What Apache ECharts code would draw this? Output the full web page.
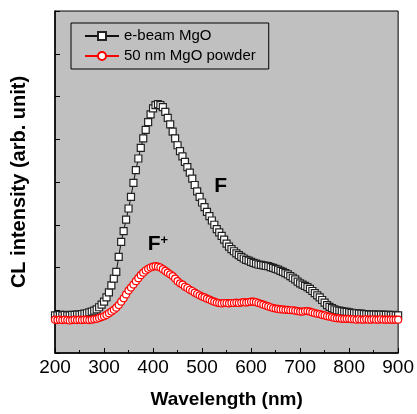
<!DOCTYPE html>
<html>
<head>
<meta charset="utf-8">
<script src="https://cdn.jsdelivr.net/npm/echarts@6.0.0/dist/echarts.min.js"></script>
<style>
  html, body { margin: 0; padding: 0; background: #fff; }
  #chart { width: 417px; height: 414px; }
</style>
</head>
<body>
<div id="chart"></div>
<script>
// wavelength grid, 5 nm step, 200..900 nm
const wavelengths = [];
for (let w = 200; w <= 900; w += 5) wavelengths.push(w);

// e-beam MgO (arb. units)
const ebeamValues = [
  0.88, 0.88, 0.89, 0.88, 0.89, 0.88, 0.88, 0.89, 0.89, 0.9, 0.9, 0.91, 0.92, 0.93, 0.95, 0.97, 0.99, 1.02, 1.07, 1.13,
  1.2, 1.3, 1.42, 1.58, 1.74, 1.9, 2.25, 2.6, 2.85, 3.12, 3.38, 3.65, 3.98, 4.28, 4.55, 4.8, 5.02, 5.22, 5.4, 5.58,
  5.72, 5.8, 5.82, 5.8, 5.75, 5.64, 5.5, 5.35, 5.18, 5.02, 4.86, 4.72, 4.6, 4.47, 4.35, 4.22, 4.08, 3.93, 3.78, 3.65,
  3.52, 3.41, 3.3, 3.2, 3.1, 3.0, 2.9, 2.82, 2.74, 2.65, 2.56, 2.49, 2.43, 2.38, 2.33, 2.29, 2.25, 2.21, 2.18, 2.16,
  2.13, 2.11, 2.09, 2.07, 2.06, 2.05, 2.04, 2.03, 2.01, 1.99, 1.97, 1.95, 1.92, 1.9, 1.87, 1.84, 1.8, 1.76, 1.72, 1.67,
  1.63, 1.6, 1.57, 1.54, 1.5, 1.45, 1.4, 1.35, 1.3, 1.24, 1.18, 1.12, 1.08, 1.05, 1.02, 1.0, 0.99, 0.98, 0.97, 0.96,
  0.95, 0.94, 0.93, 0.93, 0.92, 0.92, 0.91, 0.91, 0.9, 0.9, 0.9, 0.9, 0.89, 0.9, 0.89, 0.89, 0.89, 0.88, 0.89, 0.88,
  0.88
];

// 50 nm MgO powder
const powderValues = [
  0.78, 0.77, 0.78, 0.77, 0.78, 0.77, 0.76, 0.77, 0.78, 0.77, 0.78, 0.77, 0.78, 0.78, 0.77, 0.78, 0.79, 0.8, 0.82, 0.84,
  0.86, 0.89, 0.93, 0.97, 1.01, 1.06, 1.12, 1.2, 1.28, 1.37, 1.46, 1.53, 1.6, 1.68, 1.75, 1.82, 1.88, 1.93, 1.97, 2.0,
  2.02, 2.03, 2.02, 2.0, 1.96, 1.92, 1.88, 1.84, 1.8, 1.74, 1.68, 1.63, 1.6, 1.55, 1.52, 1.48, 1.45, 1.41, 1.38, 1.35,
  1.32, 1.3, 1.27, 1.25, 1.22, 1.2, 1.18, 1.17, 1.16, 1.17, 1.17, 1.16, 1.17, 1.17, 1.18, 1.17, 1.18, 1.19, 1.18, 1.19,
  1.2, 1.2, 1.19, 1.17, 1.15, 1.13, 1.11, 1.09, 1.07, 1.05, 1.04, 1.03, 1.02, 1.02, 1.01, 1.01, 1.0, 1.0, 0.99, 0.98,
  0.97, 0.97, 0.98, 0.98, 0.97, 0.95, 0.93, 0.92, 0.91, 0.89, 0.88, 0.86, 0.85, 0.84, 0.82, 0.81, 0.81, 0.8, 0.8, 0.8,
  0.8, 0.79, 0.79, 0.78, 0.79, 0.78, 0.78, 0.79, 0.78, 0.78, 0.79, 0.78, 0.78, 0.79, 0.78, 0.78, 0.78, 0.78, 0.78, 0.78,
  0.78
];

const seriesNames = ["e-beam MgO", "50 nm MgO powder"];
const xTicks = [200, 300, 400, 500, 600, 700, 800, 900];

// band labels placed in data coordinates
const peakLabels = [
  { text: "F", coord: [538, 3.89] },
  { text: "F{sup|+}", coord: [410, 2.55] },
];

const FONT = "'Liberation Sans', Arial, sans-serif";

const chart = echarts.init(document.getElementById("chart"));

const option = {
  animation: false,
  backgroundColor: "#ffffff",
  grid: {
    left: 55,
    right: 16,
    top: 11,
    bottom: 57,
    show: true,
    backgroundColor: "#c0c0c0",
    borderColor: "#000",
    borderWidth: 1,
  },
  legend: {
    left: 71,
    top: 23,
    orient: "vertical",
    padding: [5, 13, 5, 13],
    borderColor: "#000",
    borderWidth: 1,
    itemWidth: 34,
    itemHeight: 10,
    itemGap: 4,
    textStyle: { fontFamily: FONT, fontSize: 15, color: "#000", lineHeight: 16 },
    data: seriesNames,
  },
  xAxis: {
    type: "value",
    min: xTicks[0],
    max: xTicks[xTicks.length - 1],
    interval: 100,
    name: "Wavelength (nm)",
    nameLocation: "middle",
    nameGap: 37,
    nameTextStyle: { fontFamily: FONT, fontSize: 19, fontWeight: "bold", color: "#000" },
    axisLine: { lineStyle: { color: "#000", width: 1.5 } },
    axisTick: { inside: true, length: 5, lineStyle: { color: "#000", width: 1 } },
    minorTick: { show: true, splitNumber: 2, length: 3, lineStyle: { color: "#000", width: 1 } },
    splitLine: { show: false },
    axisLabel: { fontFamily: FONT, fontSize: 19, color: "#000", margin: 5 },
  },
  yAxis: {
    type: "value",
    min: 0,
    max: 8,
    interval: 1,
    name: "CL intensity (arb. unit)",
    nameLocation: "middle",
    nameGap: 26,
    nameTextStyle: { fontFamily: FONT, fontSize: 20, fontWeight: "bold", color: "#000" },
    axisLine: { lineStyle: { color: "#000", width: 1.5 } },
    axisTick: { inside: true, length: 5, lineStyle: { color: "#000", width: 1 } },
    splitLine: { show: false },
    axisLabel: { show: false },
  },
  series: [
    {
      name: seriesNames[0],
      type: "line",
      data: wavelengths.map((w, i) => [w, ebeamValues[i]]),
      symbol: "rect",
      symbolSize: 7,
      showAllSymbol: true,
      lineStyle: { color: "#111", width: 1 },
      itemStyle: { color: "#ffffff", borderColor: "#222", borderWidth: 1.2 },
      markPoint: {
        symbol: "circle",
        symbolSize: 0,
        label: {
          show: true,
          position: "inside",
          fontFamily: FONT,
          fontSize: 21,
          fontWeight: "bold",
          color: "#000",
          formatter: (p) => p.name,
          rich: {
            sup: { fontFamily: FONT, fontSize: 13, fontWeight: "bold", color: "#000", verticalAlign: "top", padding: [0, 0, 8, 0] },
          },
        },
        data: peakLabels.map((d) => ({ name: d.text, coord: d.coord })),
      },
    },
    {
      name: seriesNames[1],
      type: "line",
      data: wavelengths.map((w, i) => [w, powderValues[i]]),
      symbol: "circle",
      symbolSize: 7,
      showAllSymbol: true,
      lineStyle: { color: "#ff0000", width: 1 },
      itemStyle: { color: "#ffffff", borderColor: "#ff0000", borderWidth: 1.2 },
    },
  ],
};

chart.setOption(option);
</script>
</body>
</html>
